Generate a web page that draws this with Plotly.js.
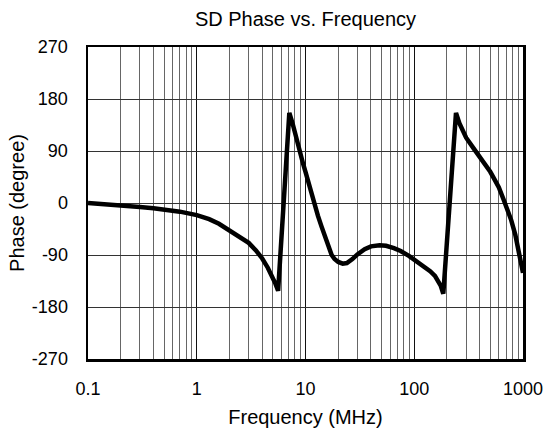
<!DOCTYPE html>
<html>
<head>
<meta charset="utf-8">
<script src="https://cdn.plot.ly/plotly-3.0.1.min.js"></script>
<style>html,body{margin:0;padding:0;background:#fff;}#chart{width:545px;height:432px;}</style>
</head>
<body>
<div id="chart"></div>
<script>
// Frequency (MHz) and phase (degree)
var freq = [0.1, 0.15, 0.2, 0.3, 0.4, 0.5, 0.7, 1, 1.3, 1.6, 2, 2.5, 3, 3.5, 4, 4.5, 5, 5.3, 5.6,
            7.1, 7.6, 8.2, 8.9, 9.5, 10, 11, 11.8, 13, 14, 15.5, 17.4, 18.5, 20, 22, 24, 27, 30, 35, 40, 48, 55, 65, 75, 90, 100, 120, 140, 155, 165, 175, 185,
            242, 260, 280, 300, 350, 400, 450, 500, 550, 600, 660, 720, 780, 850, 920, 1000];
var phase = [0, -2, -4, -7, -9, -11, -15, -21, -28, -36, -47, -58, -69, -82, -96, -112, -128, -140, -152,
             156, 138, 112, 88, 68, 54, 24, 2, -22, -40, -66, -90, -97, -102, -105, -104, -97, -89, -80, -75, -73, -74, -78, -83, -92, -98, -108, -118, -126, -134, -143, -157,
             156, 138, 124, 113, 95, 80, 67, 54, 40, 27, 7, -12, -30, -55, -84, -121];

var xMajor = [0.1, 1, 10, 100, 1000];
var xMajorText = ['0.1', '1', '10', '100', '1000'];
var xMinor = [0.2,0.3,0.4,0.5,0.6,0.7,0.8,0.9, 2,3,4,5,6,7,8,9, 20,30,40,50,60,70,80,90, 200,300,400,500,600,700,800,900];
var yTicks = [-270, -180, -90, 0, 90, 180, 270];
var yTickText = ['-270', '-180', '-90', '0', '90', '180', '270'];

var FONT = 'Liberation Sans, Arial, sans-serif';
var trace = {
  x: freq, y: phase, type: 'scatter', mode: 'lines',
  line: {color: '#000', width: 4.5, shape: 'linear'}, hoverinfo: 'skip'
};
var layout = {
  width: 545, height: 432,
  margin: {l: 88, r: 22, t: 47, b: 73},
  paper_bgcolor: '#fff', plot_bgcolor: '#fff',
  font: {family: FONT, size: 18, color: '#000'},
  showlegend: false,
  title: {text: 'SD Phase vs. Frequency', font: {family: FONT, size: 20, color: '#000'},
          x: 0.5, xref: 'paper', xanchor: 'center', y: 0.957, yref: 'container', yanchor: 'middle'},
  xaxis: {
    type: 'log', range: [-1, 3],
    tickmode: 'array', tickvals: xMajor, ticktext: xMajorText,
    showgrid: true, gridcolor: '#111', gridwidth: 1,
    minor: {tickmode: 'array', tickvals: xMinor, showgrid: true, gridcolor: '#666', gridwidth: 1, ticks: ''},
    showline: true, linecolor: '#000', linewidth: 2.5, mirror: true,
    ticks: '', ticklabelstandoff: 12,
    tickfont: {size: 18},
    zeroline: false,
    title: {text: 'Frequency (MHz)', font: {size: 20}, standoff: 12}
  },
  yaxis: {
    range: [-270, 270],
    tickmode: 'array', tickvals: yTicks, ticktext: yTickText,
    showgrid: true, gridcolor: '#333', gridwidth: 1,
    showline: true, linecolor: '#000', linewidth: 2.5, mirror: true,
    ticks: '', ticklabelstandoff: 14,
    tickfont: {size: 18},
    zeroline: false,
    title: {text: 'Phase (degree)', font: {size: 20}, standoff: 2}
  }
};
Plotly.newPlot('chart', [trace], layout, {staticPlot: true, displayModeBar: false});
</script>
</body>
</html>
